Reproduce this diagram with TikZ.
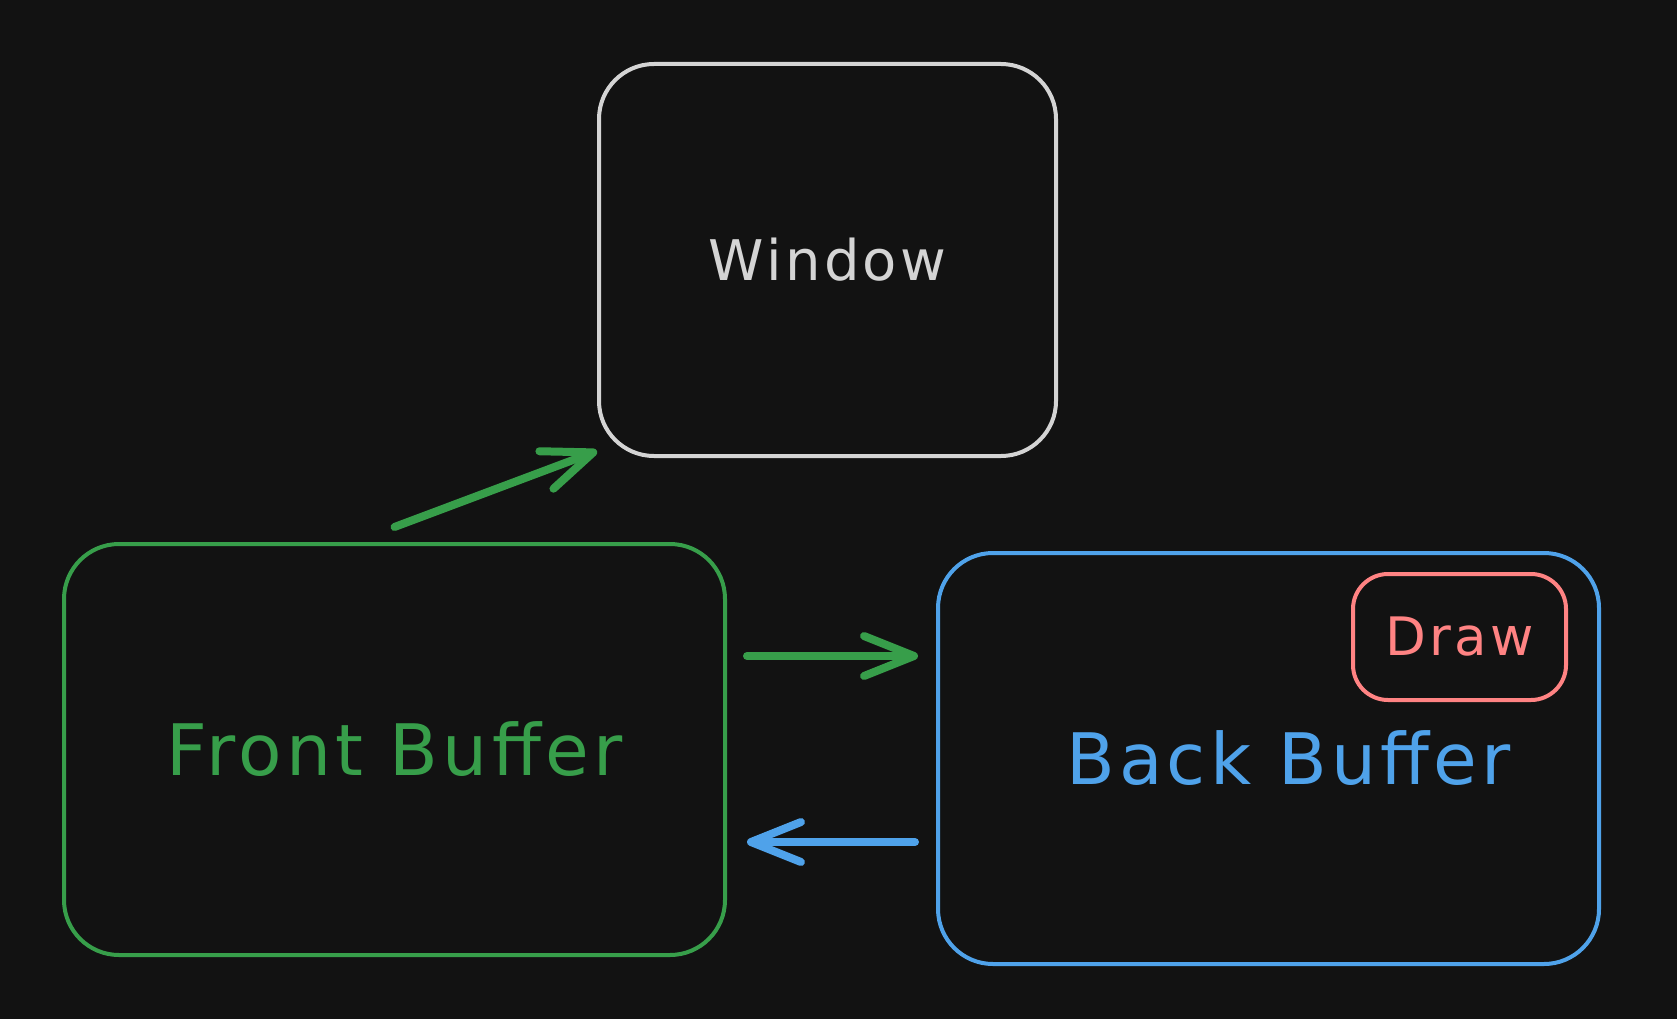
\documentclass[tikz,border=0pt]{standalone}
\usepackage{fontspec}
\setmainfont{DejaVu Sans}[LetterSpace=6]
\usetikzlibrary{arrows.meta}
\definecolor{bg}{HTML}{121212}
\definecolor{wingray}{HTML}{D4D4D4}
\definecolor{fgreen}{HTML}{379E4A}
\definecolor{bblue}{HTML}{4FA2EA}
\definecolor{dred}{HTML}{FF8383}
\begin{document}
\begin{tikzpicture}[x=1pt, y=-1pt,
  box/.style={draw, line width=4pt, rounded corners=55pt, inner sep=0pt, font=\fontsize{71}{76}\selectfont},
  arr/.style={line width=8pt, line cap=round, -{Straight Barb[round, length=50pt, width=40pt]}}]
\fill[bg] (0,0) rectangle (1677,1019);
\useasboundingbox (0,0) rectangle (1677,1019);
\node[box, color=wingray, minimum width=457pt, minimum height=392pt, font=\fontsize{56}{62}\selectfont] (window) at (827.5,260) {Window};
\node[box, color=fgreen, minimum width=661pt, minimum height=411pt] (front) at (394.5,749.5) {Front Buffer};
\node[box, color=bblue, minimum width=661pt, minimum height=411pt] (back) at (1268.5,758.5) {\hspace*{40pt}Back Buffer};
\node[box, color=dred, rounded corners=35pt, minimum width=213pt, minimum height=126pt, font=\fontsize{53}{58}\selectfont] (draw) at (1459.5,637) {Draw};
\draw[arr, fgreen] ([yshift=15pt]front.north) -- ([yshift=7pt]window.south west);
\draw[arr, fgreen] ([shift={(20pt,-114pt)}]front.north east) -- ([shift={(-18pt,-105pt)}]back.north west);
\draw[arr, bblue] ([shift={(-21pt,124pt)}]back.south west) -- ([shift={(20pt,115pt)}]front.south east);
\end{tikzpicture}
\end{document}
